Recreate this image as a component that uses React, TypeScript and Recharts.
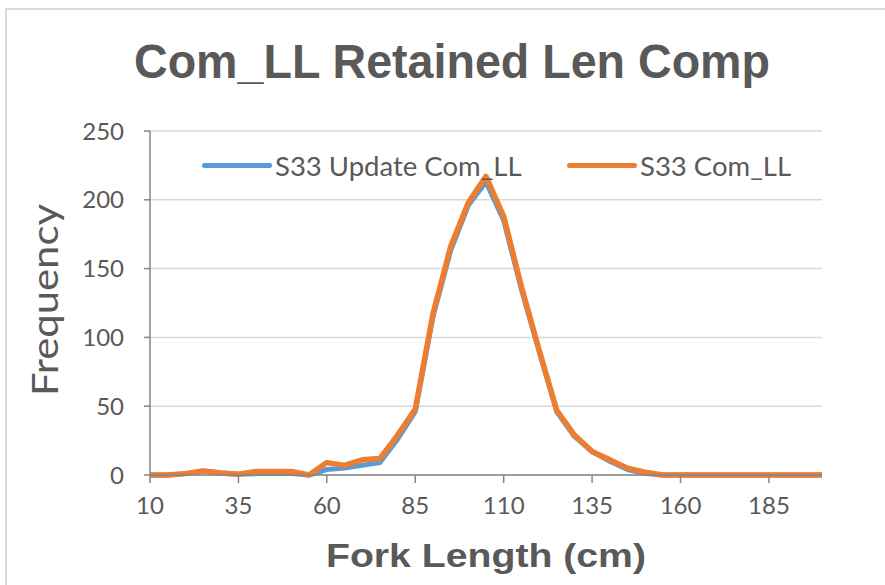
import React from 'react';
import { LineChart, Line, XAxis, YAxis, CartesianGrid, Legend } from 'recharts';

const lengths = [
  10, 15, 20, 25, 30, 35, 40, 45, 50, 55, 60, 65, 70, 75, 80, 85, 90, 95, 100, 105,
  110, 115, 120, 125, 130, 135, 140, 145, 150, 155, 160, 165, 170, 175, 180, 185, 190, 195, 200,
];
const updateComLL = [
  0, 0, 1, 3, 1.5, 0.5, 1, 1, 1, 0, 4, 5, 7, 9, 26, 46, 115, 163, 196, 213,
  185, 135, 90, 46, 28, 17, 10, 4, 1, 0, 0, 0, 0, 0, 0, 0, 0, 0, 0,
];
const comLL = [
  0, 0, 1, 3, 1.5, 0.5, 2.5, 2.5, 2.5, 0, 9, 7, 11, 12, 29, 48, 117, 166, 198, 217,
  188, 137, 91, 47, 29, 17, 11, 5, 2, 0, 0, 0, 0, 0, 0, 0, 0, 0, 0,
];
const xTicks = [10, 35, 60, 85, 110, 135, 160, 185];
const yTicks = [0, 50, 100, 150, 200, 250];

const BLUE = '#5B9BD5';
const ORANGE = '#ED7D31';
const TEXT = '#595959';

const data = lengths.map((len, i) => ({ len, update: updateComLL[i], com: comLL[i] }));

const LegendItem = ({ left, color, label }: { left: number; color: string; label: string }) => (
  <div style={{ position: 'absolute', left, top: 0, display: 'flex', alignItems: 'center', whiteSpace: 'nowrap' }}>
    <div style={{ width: 70, height: 5, background: color, borderRadius: 3, marginRight: 3 }} />
    <span>{label}</span>
  </div>
);

const LegendBox = () => (
  <div style={{ position: 'relative', height: 30, fontFamily: 'Lato', fontSize: 27.5, color: TEXT }}>
    <LegendItem left={202} color={BLUE} label="S33 Update Com_LL" />
    <LegendItem left={567} color={ORANGE} label="S33 Com_LL" />
  </div>
);

export default function App() {
  const tickStyle = { fill: TEXT, fontSize: 24, fontFamily: 'Lato' };
  return (
    <div style={{ position: 'absolute', left: 0, top: 0, width: 885, height: 585, background: '#fff' }}>
      <div style={{ position: 'absolute', left: 5, top: 8, width: 900, height: 600, border: '2px solid #D9D9D9' }} />
      <div style={{ position: 'absolute', left: 0, top: 0 }}>
        <LineChart width={885} height={585} data={data} margin={{ top: 101, right: 63, bottom: 70, left: 90 }}>
          <CartesianGrid vertical={false} stroke="#D9D9D9" strokeWidth={1.5} />
          <XAxis
            dataKey="len"
            type="number"
            domain={[10, 200]}
            ticks={xTicks}
            interval={0}
            height={40}
            tick={tickStyle}
            tickSize={8}
            tickMargin={14}
            stroke="#868686"
            strokeWidth={1.5}
          />
          <YAxis
            domain={[0, 250]}
            ticks={yTicks}
            width={60}
            tick={tickStyle}
            tickSize={6}
            tickMargin={20}
            stroke="#868686"
            strokeWidth={1.5}
          />
          <Legend verticalAlign="top" content={<LegendBox />} wrapperStyle={{ top: 149, left: 0, width: 885, height: 30 }} />
          <Line
            dataKey="update"
            stroke={BLUE}
            strokeWidth={5}
            dot={false}
            isAnimationActive={false}
            strokeLinejoin="round"
          />
          <Line
            dataKey="com"
            stroke={ORANGE}
            strokeWidth={5.5}
            dot={false}
            isAnimationActive={false}
            strokeLinejoin="round"
          />
        </LineChart>
      </div>
      <svg width={885} height={585} style={{ position: 'absolute', left: 0, top: 0, pointerEvents: 'none' }}>
        <text
          x={452}
          y={78}
          textAnchor="middle"
          fontFamily="Liberation Sans, Arial"
          fontWeight="bold"
          fontSize={48}
          fill={TEXT}
          textLength={636}
          lengthAdjust="spacingAndGlyphs"
        >
          Com_LL Retained Len Comp
        </text>
        <text
          x={486}
          y={567}
          textAnchor="middle"
          fontFamily="Liberation Sans, Arial"
          fontWeight="bold"
          fontSize={34}
          fill={TEXT}
          textLength={320}
          lengthAdjust="spacingAndGlyphs"
        >
          Fork Length (cm)
        </text>
        <text
          x={0}
          y={0}
          transform="translate(58 300) rotate(-90)"
          textAnchor="middle"
          fontFamily="Lato"
          fontSize={36}
          fill={TEXT}
          textLength={192}
          lengthAdjust="spacingAndGlyphs"
        >
          Frequency
        </text>
      </svg>
    </div>
  );
}
